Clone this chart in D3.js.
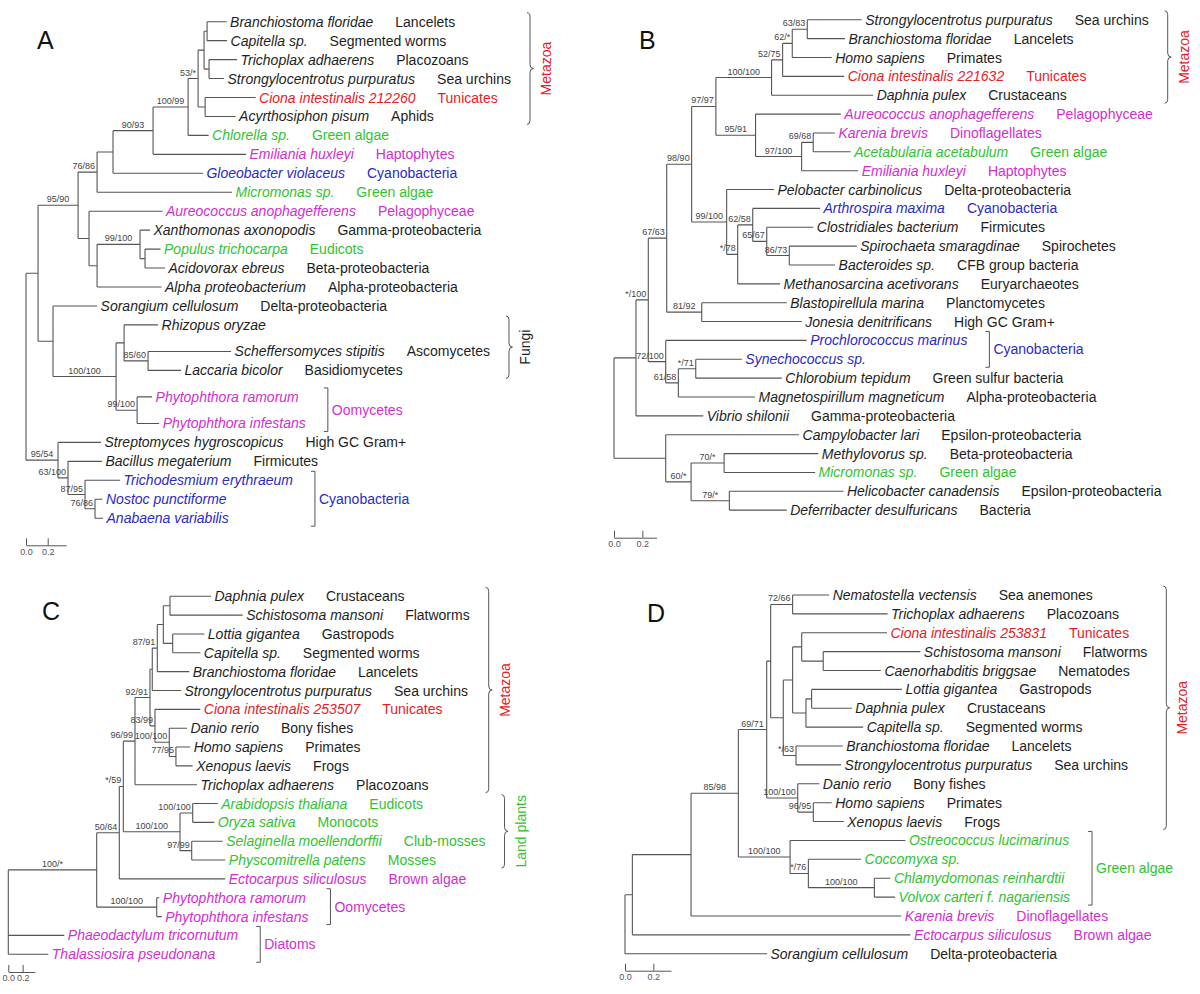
<!DOCTYPE html>
<html><head><meta charset="utf-8">
<script src="https://cdn.jsdelivr.net/npm/d3@7"></script>
<style>body{margin:0;background:#fff}svg{display:block}</style>
</head><body>
<svg id="chart" width="1200" height="994"></svg>
<script>
// ---------------- DATA ----------------
// Newick trees: branch lengths (substitutions/site), internal labels = bootstrap support
const treeA = `(
 (
  (
   (
    (
     (
      (
       (
        ((Bran:0.180,Cap:0.184):0.028,(Tri:0.258,Str:0.138):0.046):0.055,
        (Cio:0.465,Acy:0.281):0.065
       )53/*:0.092,
       Chl:0.189
      )100/99:0.323,
      Emi:0.857
     )90/93:0.369,
     Glo:0.829
    ):0.147,
    Mic:1.244
   )76/86:0.175,
   (Aur:0.677,((Xan:0.092,(Pop:0.143,Aci:0.184):0.046)99/100:0.396,Alp:0.594):0.074):0.101
  )95/90:0.369,
  (Sor:0.406,((Rhi:0.313,(Sch:0.765,Lac:0.304)85/60:0.221):0.074,(Pra:0.138,Pin:0.203)99/100:0.194)100/100:0.581):0.138
 ):0.111,
 (Stp:0.396,(Bac:0.313,(Trd:0.323,(Nos:0.069,Ana:0.074)76/86:0.092)87/95:0.157)63/100:0.092)95/54:0.295
);`;
const leavesA = [
  ["Bran","Branchiostoma floridae","Lancelets","k"],
  ["Cap","Capitella sp.","Segmented worms","k"],
  ["Tri","Trichoplax adhaerens","Placozoans","k"],
  ["Str","Strongylocentrotus purpuratus","Sea urchins","k"],
  ["Cio","Ciona intestinalis 212260","Tunicates","r"],
  ["Acy","Acyrthosiphon pisum","Aphids","k"],
  ["Chl","Chlorella sp.","Green algae","g"],
  ["Emi","Emiliania huxleyi","Haptophytes","m"],
  ["Glo","Gloeobacter violaceus","Cyanobacteria","b"],
  ["Mic","Micromonas sp.","Green algae","g"],
  ["Aur","Aureococcus anophagefferens","Pelagophyceae","m"],
  ["Xan","Xanthomonas axonopodis","Gamma-proteobacteria","k"],
  ["Pop","Populus trichocarpa","Eudicots","g"],
  ["Aci","Acidovorax ebreus","Beta-proteobacteria","k"],
  ["Alp","Alpha proteobacterium","Alpha-proteobacteria","k"],
  ["Sor","Sorangium cellulosum","Delta-proteobacteria","k"],
  ["Rhi","Rhizopus oryzae","","k"],
  ["Sch","Scheffersomyces stipitis","Ascomycetes","k"],
  ["Lac","Laccaria bicolor","Basidiomycetes","k"],
  ["Pra","Phytophthora ramorum","","m"],
  ["Pin","Phytophthora infestans","","m"],
  ["Stp","Streptomyces hygroscopicus","High GC Gram+","k"],
  ["Bac","Bacillus megaterium","Firmicutes","k"],
  ["Trd","Trichodesmium erythraeum","","b"],
  ["Nos","Nostoc punctiforme","","b"],
  ["Ana","Anabaena variabilis","","b"]
];
const rowsA = [0,1,2,3,4,5,6,7,8,9,10,11,12,13,14,15,16,17.4,18.4,19.8,21.2,22.2,23.2,24.2,25.2,26.2];
const groupsA = [
  ["Metazoa","Bran","Acy","brace","r"],
  ["Fungi","Rhi","Lac","brace","k"],
  ["Oomycetes","Pra","Pin","bracket","m"],
  ["Cyanobacteria","Trd","Ana","bracket","b"]
];

const treeB = `(
 (
  (
   (
    (
     (
      (
       (
        ((Str:0.384,Bra:0.266)63/83:0.106,Hom:0.278)62/*:0.068,
        Cio:0.435
       )52/75:0.078,
       Dap:0.717
      )100/100:0.393,
      (Aur:0.602,((Kar:0.153,Ace:0.264)69/68:0.082,Emi:0.399)97/100:0.325)95/91:0.280
     )97/97:0.171,
     (Pel:0.334,((Art:0.475,(Clo:0.329,(Spi:0.476,Bac:0.323)86/73:0.159)65/67:0.099)62/58:0.106,Met:0.299)*/78:0.078)99/100:0.247
    )98/90:0.176,
    (Bla:0.600,Jon:0.706)81/92:0.247
   )67/63:0.130,
   (Pro:0.995,((Syn:0.325,Chl:0.607)*/71:0.123,Mag:0.541)61/58:0.089)72/100:0.123
  )*/100:0.087,
  Vib:0.475
 ):0.155,
 (Cam:0.941,((Mey:0.665,Mic:0.642)70/*:0.233,(Hel:0.805,Def:0.405)79/*:0.270)60/*:0.179):0.365
);`;
const leavesB = [
  ["Str","Strongylocentrotus purpuratus","Sea urchins","k"],
  ["Bra","Branchiostoma floridae","Lancelets","k"],
  ["Hom","Homo sapiens","Primates","k"],
  ["Cio","Ciona intestinalis 221632","Tunicates","r"],
  ["Dap","Daphnia pulex","Crustaceans","k"],
  ["Aur","Aureococcus anophagefferens","Pelagophyceae","m"],
  ["Kar","Karenia brevis","Dinoflagellates","m"],
  ["Ace","Acetabularia acetabulum","Green algae","g"],
  ["Emi","Emiliania huxleyi","Haptophytes","m"],
  ["Pel","Pelobacter carbinolicus","Delta-proteobacteria","k"],
  ["Art","Arthrospira maxima","Cyanobacteria","b"],
  ["Clo","Clostridiales bacterium","Firmicutes","k"],
  ["Spi","Spirochaeta smaragdinae","Spirochetes","k"],
  ["Bac","Bacteroides sp.","CFB group bacteria","k"],
  ["Met","Methanosarcina acetivorans","Euryarchaeotes","k"],
  ["Bla","Blastopirellula marina","Planctomycetes","k"],
  ["Jon","Jonesia denitrificans","High GC Gram+","k"],
  ["Pro","Prochlorococcus marinus","","b"],
  ["Syn","Synechococcus sp.","","b"],
  ["Chl","Chlorobium tepidum","Green sulfur bacteria","k"],
  ["Mag","Magnetospirillum magneticum","Alpha-proteobacteria","k"],
  ["Vib","Vibrio shilonii","Gamma-proteobacteria","k"],
  ["Cam","Campylobacter lari","Epsilon-proteobacteria","k"],
  ["Mey","Methylovorus sp.","Beta-proteobacteria","k"],
  ["Mic","Micromonas sp.","Green algae","g"],
  ["Hel","Helicobacter canadensis","Epsilon-proteobacteria","k"],
  ["Def","Deferribacter desulfuricans","Bacteria","k"]
];
const groupsB = [
  ["Metazoa","Str","Dap","brace","r"],
  ["Cyanobacteria","Pro","Syn","bracket","b"]
];

const treeC = `(
 (
  (
   (
    (
     (
      (
       (((Dap:0.572,Sch:1.014):0.093,(Lot:0.441,Cap:0.385):0.131):0.084,Bra:0.446)87/91:0.070,
       Str:0.400
      ):0.032,
      (Cio:0.632,(Dan:0.247,(Hom:0.199,Xen:0.233)77/95:0.093)100/100:0.199)83/99:0.070
     )92/91:0.209,
     Tri:0.865
    )96/99:0.163,
    ((Ara:0.349,Ory:0.301)100/100:0.177,(Sel:0.432,Phy:0.469)97/99:0.163)100/100:0.791
   )*/59:0.056,
   Ect:1.478
  )50/64:0.315,
  (Pra:0.036,Pin:0.070)100/100:0.837
 )100/*:1.233,
 Pha:0.781,
 Tha:0.558
);`;
const leavesC = [
  ["Dap","Daphnia pulex","Crustaceans","k"],
  ["Sch","Schistosoma mansoni","Flatworms","k"],
  ["Lot","Lottia gigantea","Gastropods","k"],
  ["Cap","Capitella sp.","Segmented worms","k"],
  ["Bra","Branchiostoma floridae","Lancelets","k"],
  ["Str","Strongylocentrotus purpuratus","Sea urchins","k"],
  ["Cio","Ciona intestinalis 253507","Tunicates","r"],
  ["Dan","Danio rerio","Bony fishes","k"],
  ["Hom","Homo sapiens","Primates","k"],
  ["Xen","Xenopus laevis","Frogs","k"],
  ["Tri","Trichoplax adhaerens","Placozoans","k"],
  ["Ara","Arabidopsis thaliana","Eudicots","g"],
  ["Ory","Oryza sativa","Monocots","g"],
  ["Sel","Selaginella moellendorffii","Club-mosses","g"],
  ["Phy","Physcomitrella patens","Mosses","g"],
  ["Ect","Ectocarpus siliculosus","Brown algae","m"],
  ["Pra","Phytophthora ramorum","","m"],
  ["Pin","Phytophthora infestans","","m"],
  ["Pha","Phaeodactylum tricornutum","","m"],
  ["Tha","Thalassiosira pseudonana","","m"]
];
const groupsC = [
  ["Metazoa","Dap","Tri","brace","r"],
  ["Land plants","Ara","Phy","brace","g"],
  ["Oomycetes","Pra","Pin","bracket","m"],
  ["Diatoms","Pha","Tha","bracket","m"]
];

const treeD = `(
 (
  (
   (
    (
     (
      (Nem:0.258,Tri:0.670)72/66:0.155,
      (
       ((Cio:0.602,(Sch:0.685,Cae:0.407):0.152):0.064,((Lot:0.637,Dap:0.284):0.040,Cap:0.404):0.094):0.066,
       (Bra:0.330,Str:0.318)*/63:0.090
      ):0.089
     ):0.028,
     (Dan:0.152,(Hom:0.130,Xen:0.215)96/95:0.110)100/100:0.219
    )69/71:0.200,
    (Ost:0.814,(Coc:0.372,(Chl:0.113,Vol:0.146)100/100:0.466)*/76:0.129)100/100:0.365
   )85/98:0.334,
   Kar:1.484
  ):0.414,
  Ect:1.962
 ):0.052,
 Sor:1.002
);`;
const leavesD = [
  ["Nem","Nematostella vectensis","Sea anemones","k"],
  ["Tri","Trichoplax adhaerens","Placozoans","k"],
  ["Cio","Ciona intestinalis 253831","Tunicates","r"],
  ["Sch","Schistosoma mansoni","Flatworms","k"],
  ["Cae","Caenorhabditis briggsae","Nematodes","k"],
  ["Lot","Lottia gigantea","Gastropods","k"],
  ["Dap","Daphnia pulex","Crustaceans","k"],
  ["Cap","Capitella sp.","Segmented worms","k"],
  ["Bra","Branchiostoma floridae","Lancelets","k"],
  ["Str","Strongylocentrotus purpuratus","Sea urchins","k"],
  ["Dan","Danio rerio","Bony fishes","k"],
  ["Hom","Homo sapiens","Primates","k"],
  ["Xen","Xenopus laevis","Frogs","k"],
  ["Ost","Ostreococcus lucimarinus","","g"],
  ["Coc","Coccomyxa sp.","","g"],
  ["Chl","Chlamydomonas reinhardtii","","g"],
  ["Vol","Volvox carteri f. nagariensis","","g"],
  ["Kar","Karenia brevis","Dinoflagellates","m"],
  ["Ect","Ectocarpus siliculosus","Brown algae","m"],
  ["Sor","Sorangium cellulosum","Delta-proteobacteria","k"]
];
const groupsD = [
  ["Metazoa","Nem","Xen","brace","r"],
  ["Green algae","Ost","Vol","bracket","g"]
];

const scaleTicks = [0, 0.2];
const scaleBarLen = {A: 0.37, B: 0.30, C: 0.37, D: 0.325};

// ---------------- STYLE / LAYOUT ----------------
const FONT = '"Liberation Sans", Arial, Helvetica, sans-serif';
const palette = {k:"#1e1e1e", r:"#e5211f", g:"#30c330", m:"#d22ed2", b:"#2b2bc4"};
const LINE = "#555";
const FS = 14;
const layouts = {
  A: {x0:26,  k:108.5, y0:21.7,  dy:18.95, lx:37,  ly:49,    sy:545.3},
  B: {x0:614, k:141.7, y0:19.8,  dy:18.86, lx:639, ly:49,    sy:537.7},
  C: {x0:8.3, k:71.7,  y0:596.3, dy:18.84, lx:42,  ly:620,   sy:972},
  D: {x0:625, k:141.7, y0:595,   dy:18.88, lx:647, ly:621.5, sy:970.7}
};

function parseNewick(str) {
  const s = str.replace(/\s+/g, "");
  let i = 0;
  function node() {
    const n = {};
    if (s[i] === "(") {
      i++; n.children = [node()];
      while (s[i] === ",") { i++; n.children.push(node()); }
      i++;
    }
    let name = "";
    while (i < s.length && !":,);".includes(s[i])) name += s[i++];
    n.name = name;
    n.length = 0;
    if (s[i] === ":") { i++; let v = ""; while (i < s.length && !",);".includes(s[i])) v += s[i++]; n.length = +v; }
    return n;
  }
  return node();
}

const svg = d3.select("#chart");

function drawPanel(id, tree, leaves, rows, groups) {
  const L = layouts[id];
  const g = svg.append("g").attr("font-family", FONT);
  const x = d3.scaleLinear().domain([0, 1]).range([L.x0, L.x0 + L.k]);
  const y = d3.scaleLinear().domain([0, 1]).range([L.y0, L.y0 + L.dy]);
  const info = new Map(leaves.map(d => [d[0], d]));

  const root = d3.hierarchy(parseNewick(tree));
  root.eachBefore(n => { n.dist = n.parent ? n.parent.dist + n.data.length : 0; });
  const lv = root.leaves();
  lv.forEach((l, i) => { l.row = rows ? rows[i] : i; l.yy = y(l.row); });
  root.eachAfter(n => { if (n.children) n.yy = (n.children[0].yy + n.children[n.children.length - 1].yy) / 2; });

  // branches
  const internal = root.descendants().filter(n => n.children);
  let dpath = "";
  internal.forEach(n => {
    const xn = x(n.dist);
    dpath += `M${xn},${n.children[0].yy}V${n.children[n.children.length - 1].yy}`;
    n.children.forEach(c => { dpath += `M${xn},${c.yy}H${x(c.dist)}`; });
  });
  g.append("path").attr("d", dpath).attr("fill", "none").attr("stroke", LINE).attr("stroke-width", 1.1);

  // leaf labels
  const ends = [];
  lv.forEach((l, i) => {
    const d = info.get(l.data.name);
    const t = g.append("text").attr("x", x(l.dist) + 3.5).attr("y", l.yy).attr("dy", "0.36em")
      .attr("font-size", FS).attr("font-style", "italic").attr("fill", palette[d[3]]).text(d[1]);
    let end = x(l.dist) + 3.5 + t.node().getComputedTextLength();
    if (d[2]) {
      const t2 = g.append("text").attr("x", end + 22).attr("y", l.yy).attr("dy", "0.36em")
        .attr("font-size", FS).attr("fill", palette[d[3]]).text(d[2]);
      end = end + 22 + t2.node().getComputedTextLength();
    }
    ends.push(end);
    l.idx = i;
  });

  // support values
  internal.filter(n => n.parent && n.data.name).forEach(n => {
    const t = g.append("text").attr("font-size", 9).attr("fill", "#444").text(n.data.name);
    const w = t.node().getComputedTextLength();
    const cx = (x(n.parent.dist) + x(n.dist)) / 2;
    const xe = Math.min(cx + w / 2, x(n.dist) - 2);
    t.attr("x", xe).attr("text-anchor", "end").attr("y", n.yy - 3);
  });

  // groups
  const byName = new Map(lv.map(l => [l.data.name, l]));
  groups.forEach(([label, a, b, type, col]) => {
    const la = byName.get(a), lb = byName.get(b);
    const y1 = la.yy - 9, y2 = lb.yy + 8, ym = (y1 + y2) / 2;
    const xm = d3.max(ends.slice(la.idx, lb.idx + 1));
    if (type === "brace") {
      const xb = xm + 19;
      const p = `M${xb - 3},${y1}Q${xb},${y1} ${xb},${y1 + 4}L${xb},${ym - 4}Q${xb},${ym} ${xb + 3.5},${ym}` +
                `Q${xb},${ym} ${xb},${ym + 4}L${xb},${y2 - 4}Q${xb},${y2} ${xb - 3},${y2}`;
      g.append("path").attr("d", p).attr("fill", "none").attr("stroke", LINE).attr("stroke-width", 1);
      g.append("text").attr("transform", `translate(${xb + 16},${ym}) rotate(-90)`)
        .attr("text-anchor", "middle").attr("dy", "0.36em").attr("font-size", 14)
        .attr("fill", palette[col]).text(label);
    } else {
      const xb = xm + 22;
      g.append("path").attr("d", `M${xb - 4},${y1}H${xb}V${y2}H${xb - 4}`)
        .attr("fill", "none").attr("stroke", LINE).attr("stroke-width", 1);
      g.append("text").attr("x", xb + 4).attr("y", ym).attr("dy", "0.36em").attr("font-size", 14)
        .attr("fill", palette[col]).text(label);
    }
  });

  // panel letter
  g.append("text").attr("x", L.lx).attr("y", L.ly).attr("font-size", 25).attr("fill", "#111").text(id);

  // scale bar
  const m = scaleBarLen[id];
  const sx = d3.scaleLinear().domain([0, m]).range([L.x0, L.x0 + L.k * m]);
  const ax = g.append("g").attr("transform", `translate(0,${L.sy})`)
    .call(d3.axisBottom(sx).tickValues(scaleTicks).tickSize(-7).tickSizeOuter(0).tickPadding(3).tickFormat(d3.format(".1f")));
  ax.attr("font-family", FONT);
  ax.select(".domain").attr("stroke", LINE);
  ax.selectAll(".tick line").attr("stroke", LINE);
  ax.selectAll(".tick text").attr("font-size", 9).attr("fill", "#555");
}

drawPanel("A", treeA, leavesA, rowsA, groupsA);
drawPanel("B", treeB, leavesB, null, groupsB);
drawPanel("C", treeC, leavesC, null, groupsC);
drawPanel("D", treeD, leavesD, null, groupsD);
</script>
</body></html>
